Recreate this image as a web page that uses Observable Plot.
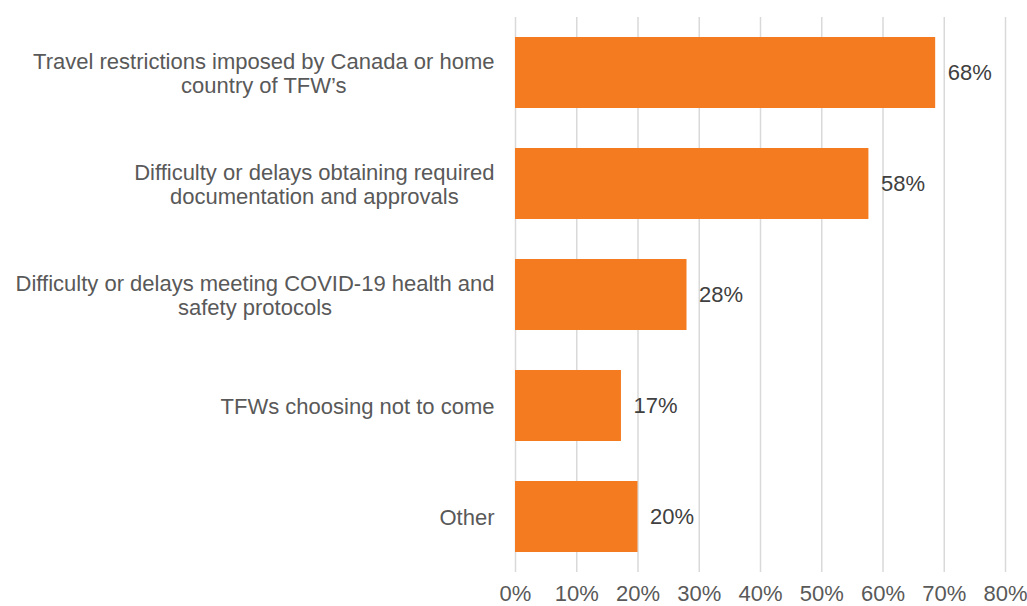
<!DOCTYPE html>
<html>
<head>
<meta charset="utf-8">
<script src="https://cdn.jsdelivr.net/npm/d3@7"></script>
<script src="https://cdn.jsdelivr.net/npm/@observablehq/plot@0.6"></script>
<style>
  html, body { margin: 0; padding: 0; background: #fff; }
  #chart svg { display: block; }
</style>
</head>
<body>
<div id="chart"></div>
<script>
const categories = [
  "Travel restrictions imposed by Canada or home\ncountry of TFW\u2019s",
  "Difficulty or delays obtaining required\ndocumentation and approvals",
  "Difficulty or delays meeting COVID-19 health and\nsafety protocols",
  "TFWs choosing not to come",
  "Other"
];
const values = [68.6, 57.7, 28, 17.3, 20];
const valueLabels = ["68%", "58%", "28%", "17%", "20%"];
const xTicks = [0, 10, 20, 30, 40, 50, 60, 70, 80];

const data = categories.map((c, i) => ({cat: c, value: values[i], label: valueLabels[i]}));

const textColor = "#595959";
const fontSize = 22;

const plot = Plot.plot({
  width: 1027,
  height: 606,
  marginLeft: 515,
  marginRight: 22,
  marginTop: 17,
  marginBottom: 34,
  style: {fontFamily: "'Liberation Sans', Arial, sans-serif", fontSize: fontSize + "px", color: textColor, background: "#fff"},
  x: {domain: [0, 80], ticks: xTicks},
  y: {domain: categories, paddingInner: 0.36, paddingOuter: 0.18},
  marks: [
    Plot.gridX(xTicks, {stroke: "#d9d9d9", strokeOpacity: 1, strokeWidth: 1.5}),
    Plot.barX(data, {x: "value", y: "cat", fill: "#F47B20"}),
    Plot.text(data, {x: "value", y: "cat", text: "label", textAnchor: "start", dx: 12, fill: "#404040", fontSize: fontSize}),
    Plot.axisX(xTicks, {tickSize: 0, tickPadding: 13, tickFormat: d => d + "%", fill: textColor, fontSize: fontSize, label: null}),
    Plot.axisY({tickSize: 0, tickPadding: 21, fill: textColor, fontSize: fontSize, lineHeight: 1.13, label: null, textAnchor: "end"})
  ]
});
document.getElementById("chart").appendChild(plot);

// center multi-line category labels on their own block (right edge kept in place)
const yAxis = plot.querySelector('[aria-label="y-axis tick label"]');
if (yAxis) {
  yAxis.querySelectorAll("text").forEach(t => {
    const w = t.getBBox().width;
    t.setAttribute("text-anchor", "middle");
    const cur = t.getAttribute("transform") || "";
    t.setAttribute("transform", cur + ` translate(${-w / 2},0)`);
  });
}
</script>
</body>
</html>
